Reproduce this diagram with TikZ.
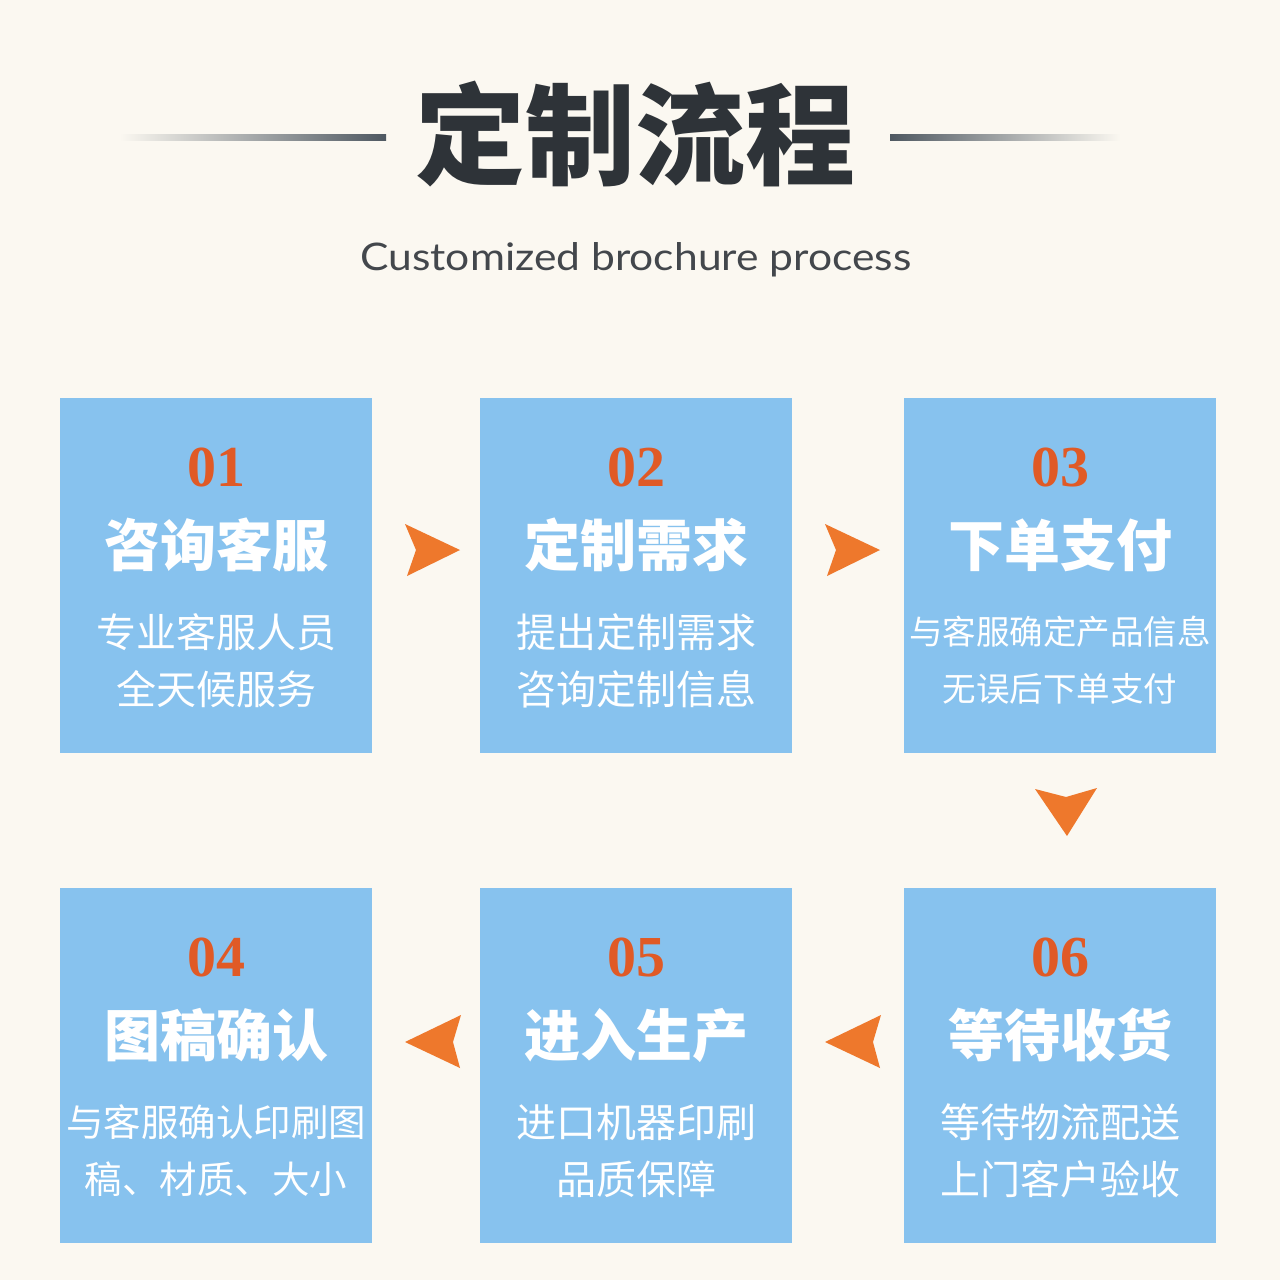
\documentclass[tikz,border=0pt]{standalone}
\usepackage{fontspec}
\setmainfont{Liberation Serif}
\newfontfamily\cjk{Noto Sans CJK SC}
\newfontfamily\latofont{Lato}
\newfontfamily\numfont{Liberation Serif}
\definecolor{bg}{HTML}{FBF8F1}
\definecolor{boxblue}{HTML}{87C2EE}
\definecolor{numor}{HTML}{E05A26}
\definecolor{arrowor}{HTML}{EE782C}
\definecolor{titlegray}{HTML}{2E3338}
\definecolor{linegray}{HTML}{4E5861}
\begin{document}
\begin{tikzpicture}[x=1pt,y=-1pt,
  stepbox/.style={fill=boxblue,draw=none,minimum width=312pt,minimum height=355pt,inner sep=0pt,anchor=north west},
  numtxt/.style={text=numor,font=\numfont\bfseries\fontsize{58}{58}\selectfont,inner sep=0pt},
  headtxt/.style={text=white,font=\cjk\bfseries\fontsize{56}{56}\selectfont,inner sep=0pt},
  subtxt/.style={text=white,font=\cjk\fontsize{40}{40}\selectfont,inner sep=0pt},
  subsmall/.style={text=white,font=\cjk\fontsize{33.5}{33.5}\selectfont,inner sep=0pt},
  arrowshape/.style={fill=arrowor,draw=none}
]
\useasboundingbox (0,0) rectangle (1280,1280);
\fill[bg] (0,0) rectangle (1280,1280);

% title
\node[text=titlegray,font=\cjk\bfseries\fontsize{110}{110}\selectfont,inner sep=0pt] (title) at (635,134) {定制流程};
\shade[left color=bg,right color=linegray] (120,134) rectangle (386,140);
\shade[left color=linegray,right color=bg] (890,134) rectangle (1120,140);
\node[text=titlegray!90,font=\latofont\fontsize{38}{38}\selectfont,inner sep=0pt,xscale=1.12] (subtitle) at (636,260) {Customized brochure process};

% boxes
\node[stepbox] (b1) at (60,398) {};
\node[stepbox] (b2) at (480,398) {};
\node[stepbox] (b3) at (904,398) {};
\node[stepbox] (b4) at (60,888) {};
\node[stepbox] (b5) at (480,888) {};
\node[stepbox] (b6) at (904,888) {};

% box texts
\foreach \b/\n/\h in {b1/01/咨询客服,b2/02/定制需求,b3/03/下单支付,b4/04/图稿确认,b5/05/进入生产,b6/06/等待收货}{
  \node[numtxt] (\b n) at ([yshift=-69pt]\b.north) {\n};
  \node[headtxt] (\b h) at ([yshift=-147pt]\b.north) {\h};
}
\node[subtxt] (b1s1) at ([yshift=-234pt]b1.north) {专业客服人员};
\node[subtxt] (b1s2) at ([yshift=-291pt]b1.north) {全天候服务};
\node[subtxt] (b2s1) at ([yshift=-234pt]b2.north) {提出定制需求};
\node[subtxt] (b2s2) at ([yshift=-291pt]b2.north) {咨询定制信息};
\node[subsmall] (b3s1) at ([yshift=-234pt]b3.north) {与客服确定产品信息};
\node[subsmall] (b3s2) at ([yshift=-291pt]b3.north) {无误后下单支付};
\node[subtxt,font=\cjk\fontsize{37.5}{37.5}\selectfont] (b4s1) at ([yshift=-234pt]b4.north) {与客服确认印刷图};
\node[subtxt,font=\cjk\fontsize{37.5}{37.5}\selectfont] (b4s2) at ([yshift=-291pt]b4.north) {稿、材质、大小};
\node[subtxt] (b5s1) at ([yshift=-234pt]b5.north) {进口机器印刷};
\node[subtxt] (b5s2) at ([yshift=-291pt]b5.north) {品质保障};
\node[subtxt] (b6s1) at ([yshift=-234pt]b6.north) {等待物流配送};
\node[subtxt] (b6s2) at ([yshift=-291pt]b6.north) {上门客户验收};

% arrows
\fill[arrowshape] (405,524) -- (460,550) -- (407,576) -- (416,550) -- cycle;
\fill[arrowshape] (825,524) -- (880,550) -- (827,576) -- (836,550) -- cycle;
\fill[arrowshape] (1035,789) -- (1066,797) -- (1097,788) -- (1067,836) -- cycle;
\fill[arrowshape] (881,1015) -- (873,1042) -- (880,1068) -- (825,1042) -- cycle;
\fill[arrowshape] (461,1015) -- (453,1042) -- (460,1068) -- (405,1042) -- cycle;
\end{tikzpicture}
\end{document}
